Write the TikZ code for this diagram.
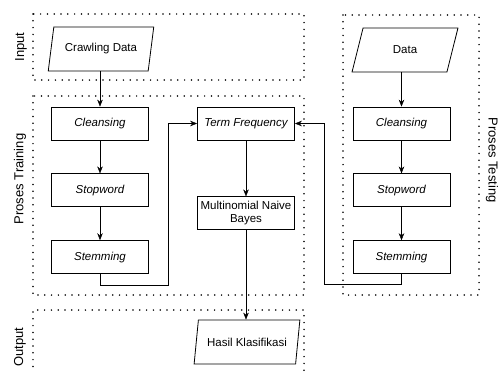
\documentclass[tikz,border=0pt]{standalone}
\usepackage{fontspec}
\setmainfont{Liberation Sans}
\usepackage{tikz}
\usetikzlibrary{shapes.geometric, arrows.meta, positioning, calc}

\begin{document}
\begin{tikzpicture}[
        x=1pt, y=-1pt,
        node distance=33pt,
        >={Stealth[length=7pt,width=5.5pt]},
        every node/.style={font=\fontsize{11.5}{13}\selectfont},
        procbox/.style={rectangle, draw, line width=0.8pt, minimum width=97pt, minimum height=33pt, inner sep=1pt},
        iobox/.style={trapezium, trapezium left angle=71, trapezium right angle=109, trapezium stretches=true, draw, line width=0.8pt, minimum width=106pt, minimum height=44pt, inner sep=1pt},
        zone/.style={line width=1.7pt, dash pattern=on 0pt off 6.8pt, line cap=round},
        zonelabel/.style={font=\fontsize{13}{15}\selectfont}
    ]
    \useasboundingbox (0,0) rectangle (499,372);

    % Dotted groups
    \draw[zone] (33,14) rectangle (304,80);
    \draw[zone] (33,96) rectangle (304,295);
    \draw[zone] (33,380) -- (33,310) -- (304,310) -- (304,380);
    \draw[zone] (343,15) rectangle (479,295);

    \node[zonelabel, rotate=90] (lbl_input) at (21,47) {Input};
    \node[zonelabel, rotate=90] (lbl_train) at (20,179) {Proses Training};
    \node[zonelabel, rotate=90] (lbl_output) at (20,347) {Output};
    \node[zonelabel, rotate=-90] (lbl_test) at (492,160) {Proses Testing};

    % Training column
    \node[iobox] (crawl) at (101,49) {Crawling Data};
    \node[procbox] (train_clean) at (100,123.5) {\itshape Cleansing};
    \node[procbox, below=of train_clean] (train_stop) {\itshape Stopword};
    \node[procbox, below=of train_stop] (train_stem) {\itshape Stemming};

    % Middle column
    \node[procbox] (tf) at (246,123.5) {\itshape Term Frequency};
    \node[procbox, align=center, below=56pt of tf] (mnb) {Multinomial Naive\\Bayes};
    \node[iobox] (hasil) at (247,342) {Hasil Klasifikasi};

    % Testing column
    \node[iobox] (data) at (405,50) {Data};
    \node[procbox] (test_clean) at (401.5,123.5) {\itshape Cleansing};
    \node[procbox, below=of test_clean] (test_stop) {\itshape Stopword};
    \node[procbox, below=of test_stop] (test_stem) {\itshape Stemming};

    \coordinate (turn_train) at (168,285);
    \coordinate (turn_test) at (324,284);

    % Flow
    \draw[->] (crawl.south -| train_clean) -- (train_clean);
    \draw[->] (train_clean) -- (train_stop);
    \draw[->] (train_stop) -- (train_stem);
    \draw[->] (train_stem.south) |- (turn_train) |- (tf.west);

    \draw[->] (data.south -| test_clean) -- (test_clean);
    \draw[->] (test_clean) -- (test_stop);
    \draw[->] (test_stop) -- (test_stem);
    \draw[->] (test_stem.south) |- (turn_test) |- (tf.east);

    \draw[->] (tf) -- (mnb);
    \draw[->] (mnb.south) -- (hasil.north -| mnb.south);

\end{tikzpicture}
\end{document}
